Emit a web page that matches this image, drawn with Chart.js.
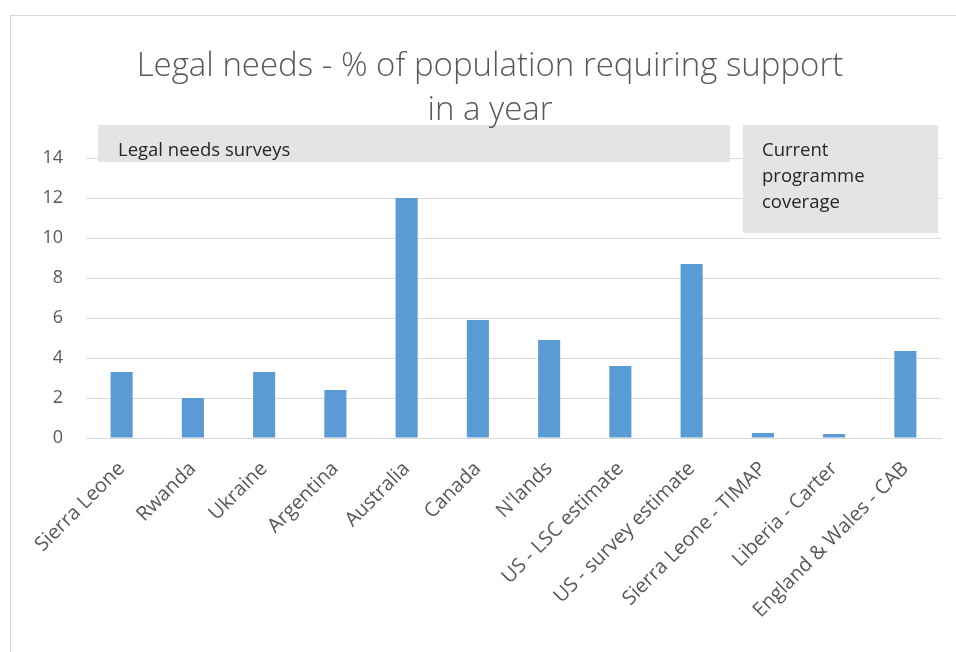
<!DOCTYPE html>
<html>
<head>
<meta charset="utf-8">
<script src="https://cdn.jsdelivr.net/npm/chart.js@4/dist/chart.umd.min.js"></script>
<style>
    html, body { margin: 0; padding: 0; background: #fff; overflow: hidden; }
    #wrap { position: relative; width: 956px; height: 652px; }
    #frame {
        position: absolute; left: 10px; top: 15px; width: 1000px; height: 700px;
        border: 1px solid #d9d9d9; pointer-events: none;
    }
</style>
</head>
<body>
<div id="wrap">
    <canvas id="graficoLegalNeeds" width="956" height="652"></canvas>
    <div id="frame"></div>
</div>
<script>
// =============================
// DADOS
// =============================

const categorias = [
    'Sierra Leone', 'Rwanda', 'Ukraine', 'Argentina', 'Australia', 'Canada',
    "N'lands", 'US - LSC estimate', 'US - survey estimate',
    'Sierra Leone - TIMAP', 'Liberia - Carter', 'England & Wales - CAB'
];

const percentuais = [3.3, 2.0, 3.3, 2.4, 12.0, 5.9, 4.9, 3.6, 8.7, 0.25, 0.2, 4.35];

const tituloLinhas = ['Legal needs - % of population requiring support', 'in a year'];
const rotuloPesquisas = ['Legal needs surveys'];
const rotuloCobertura = ['Current', 'programme', 'coverage'];

const FONTE = "'Open Sans', 'DejaVu Sans', sans-serif";


// =============================
// PLUGIN: TÍTULO E CAIXAS
// =============================

const anotacoes = {
    id: 'anotacoes',
    beforeDatasetsDraw(chart) {
        const ctx = chart.ctx;
        ctx.save();

        // caixas cinzas por cima das linhas de grade
        ctx.fillStyle = '#e4e4e4';
        ctx.fillRect(98, 125, 632, 37);
        ctx.fillRect(743, 125, 195, 108);

        ctx.fillStyle = '#262626';
        ctx.font = '18.5px ' + FONTE;
        ctx.textBaseline = 'alphabetic';
        ctx.textAlign = 'left';
        rotuloPesquisas.forEach((t, i) => ctx.fillText(t, 118, 156 + i * 26));
        rotuloCobertura.forEach((t, i) => ctx.fillText(t, 762, 156 + i * 26));

        // título em duas linhas
        ctx.fillStyle = '#595959';
        ctx.font = '300 33px ' + FONTE;
        ctx.textAlign = 'center';
        tituloLinhas.forEach((t, i) => ctx.fillText(t, 490, 76 + i * 44));

        ctx.restore();
    }
};


// =============================
// GRÁFICO
// =============================

new Chart(document.getElementById('graficoLegalNeeds'), {
    type: 'bar',
    data: {
        labels: categorias,
        datasets: [{
            label: '% of population',
            data: percentuais,
            backgroundColor: '#5b9bd5',
            borderWidth: 0,
            categoryPercentage: 1,
            barPercentage: 0.31
        }]
    },
    options: {
        responsive: false,
        animation: false,
        layout: {
            padding: { top: 158, left: 0, right: 15, bottom: 0 }
        },
        plugins: {
            legend: { display: false },
            title: { display: false },
            tooltip: { enabled: false }
        },
        scales: {
            x: {
                grid: { display: false, drawTicks: false },
                border: { color: '#d9d9d9', width: 1 },
                ticks: {
                    color: '#595959',
                    font: { family: FONTE, size: 20 },
                    minRotation: 45,
                    maxRotation: 45,
                    padding: 19,
                    autoSkip: false
                },
                afterFit(scale) { scale.height = 214; }
            },
            y: {
                min: 0,
                max: 14,
                grid: { color: '#d9d9d9', lineWidth: 1, drawTicks: false },
                border: { display: false },
                ticks: {
                    stepSize: 2,
                    color: '#595959',
                    font: { family: FONTE, size: 18 },
                    padding: 23
                },
                afterFit(scale) { scale.width = 86; }
            }
        }
    },
    plugins: [anotacoes]
});
</script>
</body>
</html>
